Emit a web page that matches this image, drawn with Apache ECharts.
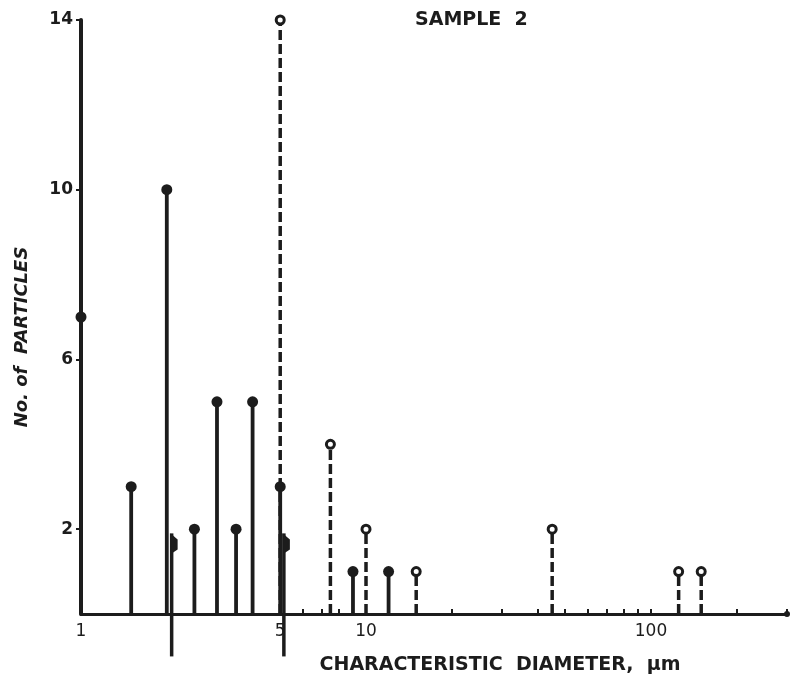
<!DOCTYPE html>
<html>
<head>
<meta charset="utf-8">
<script src="https://cdn.jsdelivr.net/npm/echarts@6/dist/echarts.min.js"></script>
<style>
  html, body { margin: 0; padding: 0; background: #fff; }
  #chart { width: 793px; height: 693px; }
</style>
</head>
<body>
<div id="chart"></div>
<script>
// Particle counts by characteristic diameter (µm), sample 2
const solidDiameters = [1, 1.5, 2, 2.5, 3, 3.5, 4, 5, 9, 12];
const solidCounts = [7, 3, 10, 2, 5, 2, 5, 3, 1, 1];
const dashedDiameters = [5, 7.5, 10, 15, 45, 125, 150];
const dashedCounts = [14, 4, 2, 1, 2, 1, 1];
// Flag markers reaching below the axis: diameter, flag height, lower end
const flagDiameters = [2.08, 5.15];
const flagTop = 1.9;
const flagBottom = -1;

const xLabelValues = [1, 5, 10, 100];
const xTickValues = [2, 3, 4, 5, 6, 7, 8, 9, 10, 20, 30, 40, 50, 60, 70, 80, 90, 100, 200, 300];
const yLabelValues = [2, 6, 10, 14];

const ink = '#1c1c1c';
const font = 'DejaVu Sans';

function stemRenderer(dashed) {
  return function (params, api) {
    const x = api.value(0), y = api.value(1);
    const top = api.coord([x, y]);
    const base = api.coord([x, 0]);
    return {
      type: 'group',
      children: [
        {
          type: 'line',
          shape: { x1: base[0], y1: base[1], x2: top[0], y2: top[1] },
          style: { stroke: ink, lineWidth: dashed ? 3.5 : 3.8, lineDash: dashed ? [10, 4] : null }
        },
        {
          type: 'circle',
          shape: { cx: top[0], cy: top[1], r: dashed ? 4 : 5.5 },
          style: dashed ? { fill: '#fff', stroke: ink, lineWidth: 3 } : { fill: ink }
        }
      ]
    };
  };
}

function flagRenderer(params, api) {
  const x = api.value(0);
  const top = api.coord([x, api.value(1)]);
  const bottom = api.coord([x, api.value(2)]);
  const px = top[0], py = top[1];
  return {
    type: 'group',
    children: [
      {
        type: 'line',
        shape: { x1: bottom[0], y1: bottom[1], x2: px, y2: py },
        style: { stroke: ink, lineWidth: 3.5 }
      },
      {
        type: 'polygon',
        shape: { points: [[px - 1, py], [px + 6, py + 6], [px + 6, py + 16], [px, py + 20]] },
        style: { fill: ink }
      }
    ]
  };
}

const chart = echarts.init(document.getElementById('chart'));
chart.setOption({
  backgroundColor: '#fff',
  animation: false,
  title: {
    text: 'SAMPLE  2',
    left: 410,
    top: 6,
    textStyle: { fontFamily: font, fontWeight: 'bold', fontSize: 19, color: ink }
  },
  grid: { left: 81, right: 6, top: 20, bottom: 79, containLabel: false, outerBoundsMode: 'none' },
  xAxis: {
    type: 'log',
    logBase: 10,
    min: 1,
    max: 300,
    name: 'CHARACTERISTIC  DIAMETER,  \u03bcm',
    nameLocation: 'middle',
    nameGap: 42,
    nameTextStyle: { fontFamily: font, fontSize: 19, fontWeight: 'bold', color: ink, padding: [0, 0, 0, 132] },
    axisLine: { lineStyle: { color: ink, width: 3 }, symbol: ['none', 'circle'], symbolSize: [6, 6] },
    axisTick: { show: true, customValues: xTickValues, inside: true, length: 5, lineStyle: { color: ink, width: 2 } },
    axisLabel: {
      customValues: xLabelValues,
      fontFamily: font,
      fontSize: 17,
      color: ink,
      margin: 9
    },
    splitLine: { show: false },
    minorTick: { show: false }
  },
  yAxis: {
    type: 'value',
    min: 0,
    max: 14,
    name: 'No. of  PARTICLES',
    nameLocation: 'middle',
    nameGap: 50,
    nameTextStyle: { fontFamily: font, fontSize: 18, fontWeight: 'bold', fontStyle: 'italic', color: ink, padding: [0, 40, 0, 0] },
    axisLine: { show: true, lineStyle: { color: ink, width: 4 } },
    axisTick: { show: true, customValues: yLabelValues, length: 5, lineStyle: { color: ink, width: 2 } },
    axisLabel: {
      customValues: yLabelValues,
      fontFamily: font,
      fontSize: 17,
      fontWeight: 'bold',
      color: ink,
      margin: 8
    },
    splitLine: { show: false }
  },
  series: [
    {
      type: 'custom',
      name: 'dashed',
      renderItem: stemRenderer(true),
      data: dashedDiameters.map((d, i) => [d, dashedCounts[i]]),
      z: 2
    },
    {
      type: 'custom',
      name: 'solid',
      renderItem: stemRenderer(false),
      data: solidDiameters.map((d, i) => [d, solidCounts[i]]),
      z: 3
    },
    {
      type: 'custom',
      name: 'flags',
      renderItem: flagRenderer,
      clip: false,
      data: flagDiameters.map(d => [d, flagTop, flagBottom]),
      z: 4
    }
  ]
});
</script>
</body>
</html>
